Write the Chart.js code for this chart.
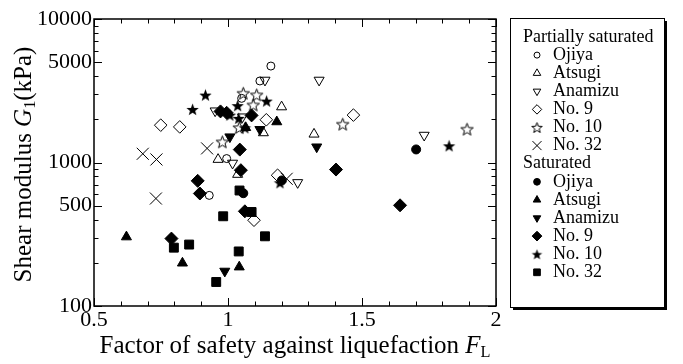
<!DOCTYPE html>
<html>
<head>
<meta charset="utf-8">
<script src="https://cdn.jsdelivr.net/npm/chart.js@4.4.0/dist/chart.umd.min.js"></script>
<style>
  html, body { margin: 0; padding: 0; background: #fff; }
</style>
</head>
<body>
<canvas id="gChart" width="683" height="364"></canvas>
<script>
// F_L vs G1 (kPa)
var xTicks = [0.5, 1, 1.5, 2];
var yTicks = [100, 500, 1000, 5000, 10000];

// partially saturated
var psOjiya   = [[1.160, 4700], [1.119, 3700], [1.051, 2800], [0.995, 1065], [0.930, 590]];
var psAtsugi  = [[1.200, 2440], [1.132, 1610], [1.321, 1575], [0.963, 1050], [1.036, 826]];
var psAnamizu = [[1.138, 3750], [1.340, 3750], [0.952, 2290], [1.054, 2080], [1.732, 1550], [1.017, 990], [1.260, 725]];
var psNo9     = [[0.749, 1820], [0.820, 1770], [1.468, 2140], [1.143, 1985], [1.185, 815], [1.097, 396]];
var psNo10    = [[1.057, 3040], [1.107, 2960], [1.094, 2520], [1.042, 1750], [0.979, 1393], [1.428, 1851], [1.892, 1708]];
var psNo32    = [[0.682, 1150], [0.733, 1050], [0.731, 561], [0.922, 1254], [1.219, 770]];

// saturated
var sOjiya   = [[1.702, 1233], [1.057, 611], [1.201, 750]];
var sAtsugi  = [[0.621, 303], [0.830, 199], [1.042, 187], [1.182, 1920], [1.066, 1750]];
var sAnamizu = [[0.988, 175], [1.331, 1285], [1.119, 1700], [1.007, 1510]];
var sNo9     = [[0.972, 2270], [0.995, 2220], [1.088, 2130], [1.044, 1230], [1.048, 884], [0.887, 745],
                [0.895, 608], [0.789, 295], [1.063, 457], [1.403, 893], [1.642, 503]];
var sNo10    = [[0.916, 2950], [0.868, 2344], [1.144, 2680], [1.036, 2490], [1.007, 2140], [1.040, 2030],
                [1.063, 1745], [1.194, 722], [1.825, 1306]];
var sNo32    = [[0.798, 255], [0.855, 268], [0.956, 147], [0.982, 422], [1.040, 240], [1.138, 306],
                [1.088, 452], [1.043, 638]];

var serif = "'Liberation Serif', 'Times New Roman', serif";

function makeStar(r, filled) {
    var c = document.createElement('canvas');
    var s = Math.ceil(2 * r + 4);
    c.width = s; c.height = s;
    var g = c.getContext('2d');
    g.beginPath();
    for (var i = 0; i < 10; i++) {
        var a = -Math.PI / 2 + i * Math.PI / 5;
        var rr = (i % 2) ? r * 0.42 : r;
        g.lineTo(s / 2 + rr * Math.cos(a), s / 2 + rr * Math.sin(a) + 0.6);
    }
    g.closePath();
    if (filled) { g.fillStyle = '#000'; g.fill(); }
    else { g.lineWidth = 1; g.strokeStyle = '#000'; g.stroke(); }
    return c;
}

var starOpen = makeStar(6.5, false), starFull = makeStar(6.5, true);
var starOpenL = makeStar(5.5, false), starFullL = makeStar(5.5, true);

function pts(arr) {
    return arr.map(function (p) { return { x: p[0], y: p[1] }; });
}

function ds(label, arr, style, radius, filled, rot, legendStyle) {
    return {
        label: label,
        data: pts(arr),
        pointStyle: style,
        pointRadius: radius,
        pointRotation: rot || 0,
        pointBorderWidth: 1,
        pointBorderColor: '#000',
        pointBackgroundColor: filled ? '#000' : 'rgba(0,0,0,0)',
        order: filled ? 0 : 1,
        showLine: false,
        legendStyle: legendStyle || style
    };
}

var datasets = [
    ds('Ojiya', psOjiya, 'circle', 4, false),
    ds('Atsugi', psAtsugi, 'triangle', 5.8, false),
    ds('Anamizu', psAnamizu, 'triangle', 5.8, false, 180),
    ds('No. 9', psNo9, 'rectRot', 6.3, false),
    ds('No. 10', psNo10, starOpen, 6.5, false, 0, starOpenL),
    ds('No. 32', psNo32, 'crossRot', 8.5, false),
    ds('Ojiya', sOjiya, 'circle', 4.5, true),
    ds('Atsugi', sAtsugi, 'triangle', 5.8, true),
    ds('Anamizu', sAnamizu, 'triangle', 5.8, true, 180),
    ds('No. 9', sNo9, 'rectRot', 6.5, true),
    ds('No. 10', sNo10, starFull, 6.5, true, 0, starFullL),
    ds('No. 32', sNo32, 'rect', 6.3, true)
];

function drawSegments(ctx, segs, size) {
    // segs: [text, italic, sub]
    var total = 0;
    segs.forEach(function (s) {
        ctx.font = (s[1] ? 'italic ' : '') + (s[2] ? size * 0.65 : size) + 'px ' + serif;
        s.w = ctx.measureText(s[0]).width;
        total += s.w;
    });
    var x = -total / 2;
    segs.forEach(function (s) {
        ctx.font = (s[1] ? 'italic ' : '') + (s[2] ? size * 0.65 : size) + 'px ' + serif;
        ctx.fillText(s[0], x, s[2] ? size * 0.28 : 0);
        x += s.w;
    });
}

var framePlugin = {
    id: 'frame',
    afterDraw: function (chart) {
        var ctx = chart.ctx, a = chart.chartArea;
        var xs = chart.scales.x, ys = chart.scales.y;
        ctx.save();
        ctx.strokeStyle = '#000';
        ctx.lineWidth = 1.5;
        ctx.strokeRect(a.left, a.top, a.right - a.left, a.bottom - a.top);

        ctx.lineWidth = 1;
        ctx.beginPath();
        // x ticks, every 0.1
        for (var i = 5; i <= 20; i++) {
            var v = i / 10;
            var px = Math.round(xs.getPixelForValue(v)) + 0.5;
            var len = (i % 5 === 0) ? 8 : 4.5;
            ctx.moveTo(px, a.bottom); ctx.lineTo(px, a.bottom - len);
            ctx.moveTo(px, a.top); ctx.lineTo(px, a.top + len);
        }
        // y ticks, every integer multiple per decade
        [100, 1000].forEach(function (d) {
            for (var k = 1; k <= 10; k++) {
                var val = k * d;
                var py = Math.round(ys.getPixelForValue(val)) + 0.5;
                var major = (k === 1 || k === 5 || k === 10);
                var len = major ? 8 : 4.5;
                ctx.moveTo(a.left, py); ctx.lineTo(a.left + len, py);
                ctx.moveTo(a.right, py); ctx.lineTo(a.right - len, py);
            }
        });
        ctx.stroke();

        // axis titles
        ctx.fillStyle = '#000';
        ctx.textBaseline = 'middle';
        ctx.textAlign = 'left';
        ctx.save();
        ctx.translate(24, (a.top + a.bottom) / 2 + 2);
        ctx.rotate(-Math.PI / 2);
        drawSegments(ctx, [['Shear modulus ', false, false], ['G', true, false], ['1', false, true], ['(kPa)', false, false]], 25);
        ctx.restore();

        ctx.save();
        ctx.translate((a.left + a.right) / 2, 346);
        drawSegments(ctx, [['Factor of safety against liquefaction ', false, false], ['F', true, false], ['L', false, true]], 25);
        ctx.restore();

        // legend box
        var bx = 510, by = 18, bw = 154, bh = 289;
        ctx.fillStyle = '#000';
        ctx.fillRect(bx + 3, by + 3, bw, bh);
        ctx.fillStyle = '#fff';
        ctx.fillRect(bx, by, bw, bh);
        ctx.lineWidth = 1;
        ctx.strokeRect(bx + 0.5, by + 0.5, bw, bh);

        var rows = [['Partially saturated']];
        for (var j = 0; j < 6; j++) rows.push([datasets[j].label, datasets[j]]);
        rows.push(['Saturated']);
        for (j = 6; j < 12; j++) rows.push([datasets[j].label, datasets[j]]);

        ctx.font = '18px ' + serif;
        rows.forEach(function (r, idx) {
            var y = 37 + idx * 18.1;
            ctx.fillStyle = '#000';
            if (!r[1]) {
                ctx.fillText(r[0], 523, y);
                return;
            }
            ctx.fillText(r[0], 553, y);
            var d = r[1];
            ctx.strokeStyle = '#000';
            ctx.fillStyle = d.pointBackgroundColor;
            ctx.lineWidth = 1;
            if (Chart.helpers && Chart.helpers.drawPoint) {
                Chart.helpers.drawPoint(ctx, {
                    pointStyle: d.legendStyle,
                    rotation: d.pointRotation,
                    radius: d.pointRadius * 0.75,
                    borderWidth: 1
                }, 537, y);
            }
        });
        ctx.restore();
    }
};

var ctx = document.getElementById('gChart').getContext('2d');
var myChart = new Chart(ctx, {
    type: 'scatter',
    data: { datasets: datasets },
    options: {
        responsive: false,
        animation: false,
        layout: { padding: { left: 0, top: 19, right: 187, bottom: 0 } },
        scales: {
            x: {
                type: 'linear',
                min: 0.5,
                max: 2,
                afterBuildTicks: function (s) {
                    s.ticks = xTicks.map(function (v) { return { value: v }; });
                },
                afterFit: function (s) { s.height = 58; },
                grid: { display: false, drawTicks: false },
                border: { display: false },
                ticks: {
                    padding: 1,
                    maxRotation: 0,
                    color: '#000',
                    font: { family: serif, size: 22 },
                    callback: function (v) { return String(v); }
                }
            },
            y: {
                type: 'logarithmic',
                min: 100,
                max: 10000,
                afterBuildTicks: function (s) {
                    s.ticks = yTicks.map(function (v) { return { value: v }; });
                },
                afterFit: function (s) { s.width = 94; },
                grid: { display: false, drawTicks: false },
                border: { display: false },
                ticks: {
                    padding: 2,
                    color: '#000',
                    font: { family: serif, size: 22 },
                    callback: function (v) { return String(v); }
                }
            }
        },
        plugins: {
            legend: { display: false },
            tooltip: { enabled: false }
        }
    },
    plugins: [framePlugin]
});
</script>
</body>
</html>
